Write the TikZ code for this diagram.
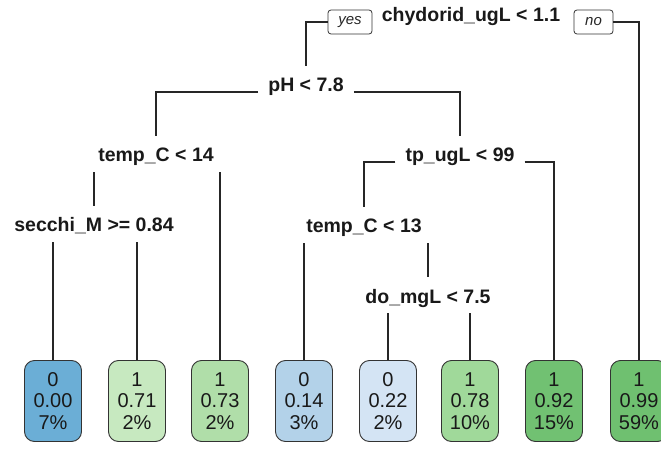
\documentclass[tikz,border=0pt]{standalone}
\usepackage{fontspec}
\setmainfont{Liberation Sans}
\definecolor{cA}{HTML}{6BAED6}
\definecolor{cB}{HTML}{C7E9C0}
\definecolor{cC}{HTML}{B0DEA9}
\definecolor{cD}{HTML}{B3D2E9}
\definecolor{cE}{HTML}{D4E4F4}
\definecolor{cF}{HTML}{A0D99A}
\definecolor{cG}{HTML}{71C172}
\definecolor{cH}{HTML}{6FC070}
\begin{document}
\begin{tikzpicture}[x=1pt,y=-1pt,
  split/.style={font=\fontsize{19.5}{22}\selectfont\bfseries, inner xsep=10pt, inner ysep=0pt, text height=26pt, text depth=10pt, anchor=base, text=black!90},
  leaf/.style={draw=black!80, line width=0.9pt, rounded corners=10pt, minimum width=57pt, minimum height=81pt, align=center, font=\fontsize{20}{21.5}\selectfont, inner sep=0pt, text=black!90},
  tag/.style={draw=black!80, line width=0.8pt, rounded corners=3pt, font=\fontsize{15}{15}\selectfont\itshape, minimum height=24pt, inner sep=0pt, text=black!85},
  conn/.style={line width=1.2pt, draw=black!85}]
\useasboundingbox (0,0) rectangle (661,449);
\clip (0,0) rectangle (661,449);
\fill[white] (0,0) rectangle (661,449);

\node[split] (root) at (471,22) {chydorid\_ugL < 1.1};
\node[tag, minimum width=44pt] (yes) at (350,22) {yes};
\node[tag, minimum width=39pt] (no) at (593.5,22) {no};
\node[split] (ph) at (306,92) {pH < 7.8};
\node[split] (tc14) at (156,162) {temp\_C < 14};
\node[split] (tp) at (460,162) {tp\_ugL < 99};
\node[split] (secchi) at (94,232) {secchi\_M >= 0.84};
\node[split] (tc13) at (364,233) {temp\_C < 13};
\node[split] (do) at (428,303) {do\_mgL < 7.5};

\node[leaf, fill=cA] (L1) at (53,401) {0\\0.00\\7\%};
\node[leaf, fill=cB] (L2) at (137,401) {1\\0.71\\2\%};
\node[leaf, fill=cC] (L3) at (220,401) {1\\0.73\\2\%};
\node[leaf, fill=cD] (L4) at (304,401) {0\\0.14\\3\%};
\node[leaf, fill=cE] (L5) at (388,401) {0\\0.22\\2\%};
\node[leaf, fill=cF] (L6) at (470,401) {1\\0.78\\10\%};
\node[leaf, fill=cG] (L7) at (554,401) {1\\0.92\\15\%};
\node[leaf, fill=cH] (L8) at (639,401) {1\\0.99\\59\%};

\draw[conn] (yes.west) -| (ph.north);
\draw[conn] (no.east) -| (L8.north);
\draw[conn] (ph.base west) -| (tc14.north);
\draw[conn] (ph.base east) -| (tp.north);
\draw[conn] (tc14.south -| secchi.north) -- (secchi.north);
\draw[conn] (tc14.south -| L3.north) -- (L3.north);
\draw[conn] (tp.base west) -| (tc13.north);
\draw[conn] (tp.base east) -| (L7.north);
\draw[conn] (secchi.south -| L1.north) -- (L1.north);
\draw[conn] (secchi.south -| L2.north) -- (L2.north);
\draw[conn] (tc13.south -| L4.north) -- (L4.north);
\draw[conn] (tc13.south -| do.north) -- (do.north);
\draw[conn] (do.south -| L5.north) -- (L5.north);
\draw[conn] (do.south -| L6.north) -- (L6.north);
\end{tikzpicture}
\end{document}
